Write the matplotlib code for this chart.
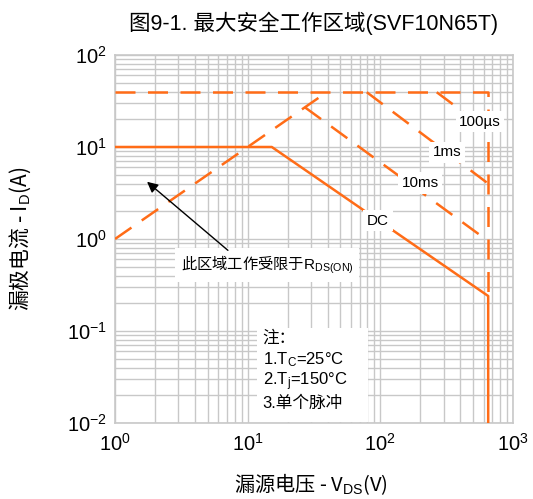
import numpy as np
import matplotlib
matplotlib.use("Agg")
import matplotlib.pyplot as plt
from matplotlib.ticker import LogLocator, NullFormatter
from matplotlib.patches import Rectangle

plt.rcParams['font.family'] = ['Liberation Sans', 'Noto Sans CJK SC']
plt.rcParams['mathtext.fontset'] = 'custom'
plt.rcParams['mathtext.rm'] = 'Liberation Sans'
plt.rcParams['mathtext.it'] = 'Liberation Sans'

CJK = 'Noto Sans CJK SC'
ORANGE = '#ff6c17'
GRID = '#c8c8c8'

# SOA boundaries, V_DS in volts, I_D in amps
rds_v = [1.0, 39.4]
rds_i = [1.0, 39.4]
idm_v = [1.0, 650.0, 650.0]
idm_i = [39.4, 39.4, 0.24]
t10ms_v = [27.0, 650.0]
t10ms_i = [27.0, 0.95]
t1ms_v = [79.0, 650.0]
t1ms_i = [39.4, 4.0]
t100us_v = [266.0, 650.0]
t100us_i = [39.4, 15.0]
dc_v = [1.0, 15.2, 650.0, 650.0]
dc_i = [10.0, 10.0, 0.24, 0.01]

curve_labels = ['100µs', '1ms', '10ms', 'DC']
label_v = [563, 318, 199, 96]
label_i = [18.7, 8.8, 4.06, 1.57]

notes = ['注：', '1.T$_\\mathrm{C}$=25°C', '2.T$_\\mathrm{j}$=150°C', '3.单个脉冲']
note_i = [0.084, 0.0484, 0.0279, 0.0165]

fig = plt.figure(figsize=(5.33, 4.99), dpi=100)
ax = fig.add_axes([0.2158, 0.1523, 0.7467, 0.7375])
ax.set_xscale('log')
ax.set_yscale('log')
ax.set_xlim(1, 1000)
ax.set_ylim(0.01, 100)

for a in (ax.xaxis, ax.yaxis):
    a.set_major_locator(LogLocator(base=10, numticks=10))
    a.set_minor_locator(LogLocator(base=10, subs=np.arange(2, 10), numticks=20))
    a.set_minor_formatter(NullFormatter())
ax.grid(True, which='both', color=GRID, lw=1.0)
ax.set_axisbelow(True)
ax.tick_params(which='both', length=0, labelsize=14.5)
ax.tick_params(axis='x', pad=7)
ax.tick_params(axis='y', pad=6)
for s in ax.spines.values():
    s.set_color(GRID)
    s.set_linewidth(1.2)

dash = (8, 5)
ax.plot(rds_v, rds_i, color=ORANGE, lw=1.8, dashes=dash, zorder=3)
ax.plot(idm_v, idm_i, color=ORANGE, lw=1.8, dashes=dash, zorder=3)
ax.plot(t10ms_v, t10ms_i, color=ORANGE, lw=1.8, dashes=dash, zorder=3)
ax.plot(t1ms_v, t1ms_i, color=ORANGE, lw=1.8, dashes=dash, zorder=3)
ax.plot(t100us_v, t100us_i, color=ORANGE, lw=1.8, dashes=dash, zorder=3)
ax.plot(dc_v, dc_i, color=ORANGE, lw=1.8, zorder=3)

box = dict(facecolor='white', edgecolor='none', pad=2.5)
for txt, v, i in zip(curve_labels, label_v, label_i):
    ax.text(v, i, txt, ha='center', va='center', fontsize=11, bbox=box, zorder=4)

# R_DS(on) note with arrow
ax.annotate('', xy=(1.68, 4.38), xytext=(7.36, 0.72),
            arrowprops=dict(arrowstyle='-|>', color='black', lw=1.0, mutation_scale=16),
            zorder=5)
ax.text(14, 0.52, '此区域工作受限于$\\mathrm{R_{DS(ON)}}$', ha='center', va='center',
        fontsize=11, family=CJK,
        bbox=dict(facecolor='white', edgecolor='none', pad=4), zorder=4)

# test conditions
ax.add_patch(Rectangle((11.75, 0.0103), 80.7 - 11.75, 0.108 - 0.0103,
                       facecolor='white', edgecolor='none', zorder=4))
for txt, i in zip(notes, note_i):
    ax.text(13.0, i, txt, ha='left', va='center', fontsize=12,
            family=['Liberation Sans', CJK], zorder=5)

ax.set_xlabel('漏源电压 - V$_\\mathrm{DS}$(V)', fontsize=14.5, family=CJK)
ax.set_ylabel('漏极电流 - I$_\\mathrm{D}$(A)', fontsize=15, family=CJK)
ax.xaxis.set_label_coords(0.4925, -0.132)
ax.yaxis.set_label_coords(-0.205, 0.5)
fig.text(0.5885, 1 - 23 / 499, '图9-1. 最大安全工作区域(SVF10N65T)', ha='center', va='center',
         fontsize=15.5, family=['Liberation Sans', CJK])

fig.savefig('out.png', dpi=100)
